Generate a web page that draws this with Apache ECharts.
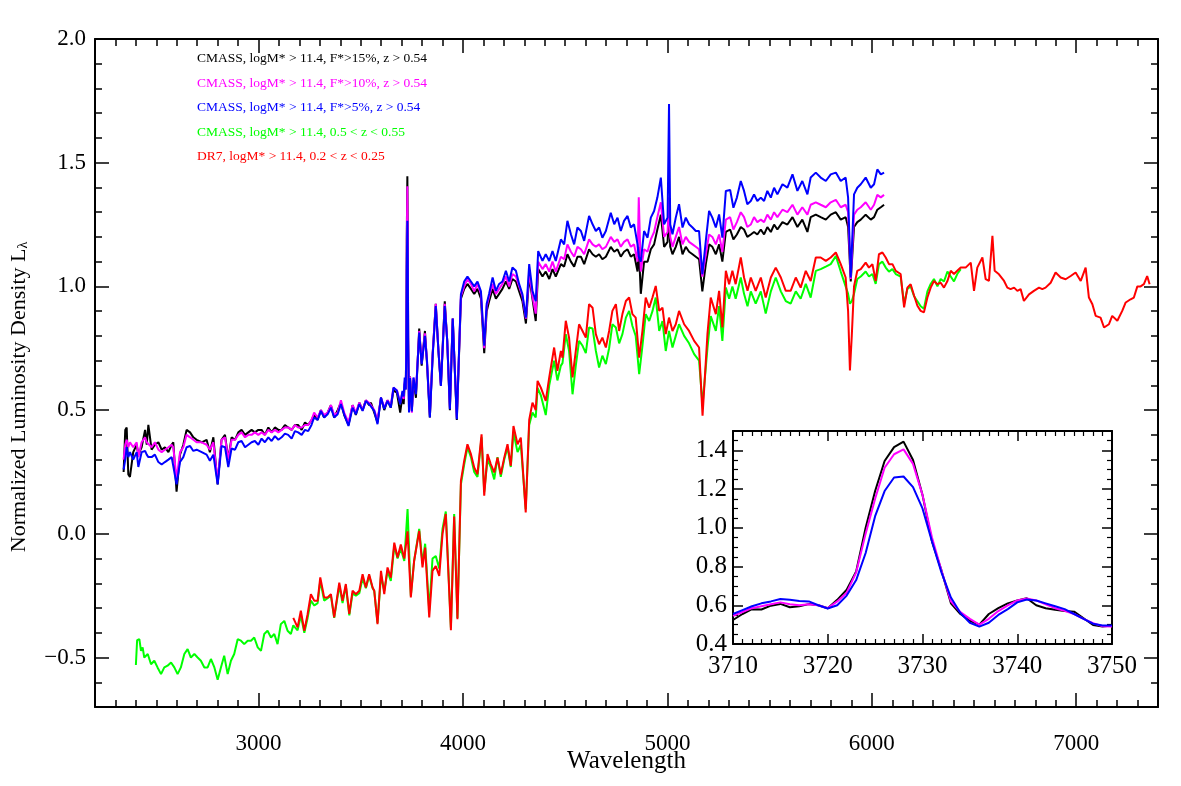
<!DOCTYPE html>
<html>
<head>
<meta charset="utf-8">
<script src="https://cdn.jsdelivr.net/npm/echarts@6/dist/echarts.min.js"></script>
<style>html,body{margin:0;padding:0;background:#fff}#chart{width:1181px;height:786px}</style>
</head>
<body>
<div id="chart"></div>
<script>
// ---------------- DATA ----------------
const legendNames = [
  'CMASS, logM* > 11.4, F*>15%, z > 0.54',
  'CMASS, logM* > 11.4, F*>10%, z > 0.54',
  'CMASS, logM* > 11.4, F*>5%, z > 0.54',
  'CMASS, logM* > 11.4, 0.5 < z < 0.55',
  'DR7, logM* > 11.4, 0.2 < z < 0.25'
];
const seriesColors = ['#000000', '#ff00ff', '#0000ff', '#00ff00', '#ff0000'];

const mainXTickValues = [3000, 4000, 5000, 6000, 7000];
const mainXTickLabels = ['3000', '4000', '5000', '6000', '7000'];
const mainYTickValues = [-0.5, 0.0, 0.5, 1.0, 1.5, 2.0];
const mainYTickLabels = ['\u22120.5', '0.0', '0.5', '1.0', '1.5', '2.0'];
const insetXTickValues = [3710, 3720, 3730, 3740, 3750];
const insetXTickLabels = ['3710', '3720', '3730', '3740', '3750'];
const insetYTickValues = [0.4, 0.6, 0.8, 1.0, 1.2, 1.4];
const insetYTickLabels = ['0.4', '0.6', '0.8', '1.0', '1.2', '1.4'];

// CMASS high-z stacks (wavelength grid shared by the three F* subsamples)
const cmassWave = [
  2340,2348,2355,2363,2371,2387,2404,2412,2428,2445,
  2453,2461,2477,2493,2510,2526,2542,2559,2575,2583,
  2599,2616,2632,2648,2665,2681,2697,2722,2746,2762,
  2779,2800,2819,2836,2852,2868,2885,2901,2917,2934,
  2950,2966,2982,2999,3015,3031,3048,3064,3080,3097,
  3113,3129,3145,3162,3178,3194,3211,3227,3243,3259,
  3272,3289,3305,3321,3338,3354,3370,3387,3403,3419,
  3440,3460,3476,3493,3509,3525,3541,3550,3566,3582,
  3599,3615,3631,3647,3660,3677,3693,3704,3710,3715,
  3720,3723,3725,3728,3730,3732,3736,3741,3746,3750,
  3758,3770,3786,3798,3814,3824,3838,3852,3867,3880,
  3892,3911,3923,3936,3950,3970,3990,4006,4022,4039,
  4055,4071,4088,4104,4116,4128,4145,4161,4177,4193,
  4210,4226,4242,4259,4275,4291,4308,4324,4340,4356,
  4368,4389,4405,4422,4438,4454,4479,4495,4511,4528,
  4544,4560,4577,4593,4617,4634,4650,4666,4682,4699,
  4723,4740,4756,4772,4788,4805,4821,4837,4854,4860,
  4870,4886,4903,4919,4935,4951,4968,4984,5001,5008,
  5014,5025,5041,5057,5074,5090,5106,5123,5139,5155,
  5171,5188,5204,5220,5237,5253,5269,5286,5307,5323,
  5340,5359,5375,5391,5408,5424,5440,5457,5473,5489,
  5506,5522,5538,5563,5587,5612,5636,5660,5685,5701,
  5726,5750,5775,5799,5824,5848,5872,5884,5897,5913,
  5929,5946,5970,5995,6011,6027,6044,6060
];
const cmassF15 = [ // black
  0.25,0.42,0.43,0.24,0.23,0.33,0.36,0.32,0.35,0.42,
  0.36,0.44,0.34,0.36,0.37,0.34,0.35,0.33,0.36,0.37,
  0.17,0.32,0.36,0.42,0.41,0.39,0.38,0.37,0.38,0.33,
  0.39,0.20,0.38,0.40,0.30,0.39,0.38,0.41,0.42,0.40,
  0.41,0.42,0.41,0.42,0.42,0.40,0.43,0.41,0.43,0.42,
  0.42,0.44,0.43,0.42,0.44,0.44,0.42,0.45,0.44,0.46,
  0.48,0.46,0.50,0.47,0.49,0.52,0.47,0.50,0.53,0.48,
  0.44,0.52,0.48,0.53,0.50,0.54,0.52,0.53,0.49,0.45,
  0.55,0.50,0.54,0.51,0.58,0.57,0.49,0.56,0.524,0.607,
  0.584,0.775,1.19,1.445,1.207,0.792,0.503,0.636,0.567,0.498,
  0.62,0.55,0.83,0.68,0.82,0.69,0.47,0.73,0.93,0.74,
  0.60,0.94,0.78,0.50,0.87,0.46,0.95,0.99,1.01,0.99,
  0.97,0.99,0.95,0.73,0.90,0.94,0.99,0.95,0.97,0.99,
  1.02,0.99,1.03,1.02,0.98,0.94,0.85,1.04,0.95,0.86,
  1.07,1.04,1.06,1.03,1.07,1.04,1.09,1.08,1.13,1.10,
  1.08,1.12,1.12,1.09,1.15,1.13,1.12,1.13,1.11,1.12,
  1.16,1.14,1.15,1.12,1.14,1.15,1.12,1.13,1.06,1.16,
  0.97,1.10,1.10,1.15,1.17,1.23,1.29,1.16,1.18,1.30,
  1.16,1.13,1.16,1.20,1.13,1.16,1.14,1.13,1.12,1.11,
  0.98,1.09,1.17,1.16,1.13,1.17,1.10,1.22,1.23,1.19,
  1.21,1.24,1.23,1.20,1.21,1.22,1.21,1.23,1.21,1.24,
  1.22,1.25,1.23,1.26,1.25,1.28,1.24,1.27,1.22,1.28,
  1.29,1.28,1.27,1.29,1.30,1.27,1.28,1.24,1.02,1.24,
  1.26,1.27,1.29,1.27,1.28,1.31,1.32,1.33
];
const cmassF10 = [ // magenta
  0.30,0.36,0.38,0.35,0.37,0.35,0.37,0.31,0.37,0.39,
  0.37,0.37,0.35,0.37,0.34,0.33,0.34,0.35,0.36,0.35,
  0.22,0.33,0.35,0.40,0.39,0.38,0.37,0.37,0.36,0.34,
  0.37,0.21,0.38,0.39,0.30,0.38,0.38,0.40,0.41,0.39,
  0.40,0.40,0.41,0.40,0.41,0.40,0.42,0.41,0.42,0.41,
  0.42,0.43,0.43,0.42,0.44,0.43,0.43,0.44,0.44,0.46,
  0.49,0.47,0.50,0.48,0.49,0.52,0.48,0.49,0.54,0.49,
  0.45,0.52,0.49,0.53,0.50,0.54,0.53,0.53,0.50,0.46,
  0.55,0.51,0.54,0.52,0.59,0.58,0.53,0.57,0.545,0.615,
  0.585,0.77,1.15,1.405,1.20,0.80,0.50,0.635,0.55,0.49,
  0.63,0.57,0.82,0.69,0.81,0.70,0.48,0.73,0.93,0.74,
  0.60,0.93,0.78,0.51,0.87,0.47,0.96,1.00,1.03,1.01,
  0.98,1.01,0.97,0.75,0.92,0.96,1.01,0.97,0.99,1.01,
  1.04,1.00,1.05,1.04,1.00,0.96,0.87,1.06,0.96,0.89,
  1.10,1.07,1.09,1.06,1.10,1.06,1.12,1.11,1.17,1.14,
  1.12,1.16,1.15,1.13,1.19,1.17,1.16,1.17,1.15,1.16,
  1.20,1.18,1.19,1.16,1.18,1.19,1.16,1.17,1.10,1.36,
  1.06,1.15,1.14,1.19,1.22,1.28,1.34,1.20,1.22,1.36,
  1.20,1.16,1.20,1.24,1.17,1.20,1.18,1.17,1.16,1.15,
  1.04,1.13,1.21,1.20,1.17,1.21,1.14,1.27,1.28,1.23,
  1.26,1.30,1.28,1.24,1.25,1.28,1.26,1.27,1.26,1.29,
  1.27,1.30,1.28,1.31,1.30,1.33,1.29,1.32,1.29,1.33,
  1.34,1.33,1.32,1.34,1.35,1.32,1.33,1.30,1.03,1.29,
  1.31,1.32,1.34,1.31,1.33,1.37,1.36,1.37
];
const cmassF5 = [ // blue
  0.26,0.30,0.35,0.31,0.33,0.30,0.33,0.27,0.33,0.335,
  0.32,0.31,0.31,0.32,0.29,0.28,0.29,0.30,0.31,0.315,
  0.20,0.29,0.31,0.35,0.355,0.335,0.34,0.33,0.32,0.295,
  0.32,0.20,0.355,0.35,0.27,0.345,0.34,0.37,0.375,0.35,
  0.36,0.37,0.375,0.36,0.385,0.37,0.39,0.375,0.395,0.38,
  0.39,0.405,0.40,0.385,0.415,0.41,0.40,0.42,0.415,0.44,
  0.47,0.46,0.497,0.47,0.483,0.51,0.47,0.483,0.524,0.483,
  0.436,0.51,0.483,0.524,0.497,0.537,0.524,0.524,0.497,0.443,
  0.551,0.505,0.537,0.51,0.591,0.578,0.524,0.578,0.555,0.632,
  0.583,0.73,1.06,1.265,1.10,0.77,0.49,0.63,0.555,0.495,
  0.632,0.564,0.813,0.686,0.80,0.70,0.47,0.72,0.921,0.74,
  0.598,0.921,0.78,0.504,0.87,0.463,0.968,1.02,1.04,1.02,
  1.00,1.02,0.98,0.76,0.93,0.97,1.036,0.982,1.01,1.02,
  1.063,1.02,1.076,1.063,1.009,0.968,0.874,1.09,0.982,0.94,
  1.143,1.103,1.13,1.103,1.143,1.103,1.19,1.17,1.265,1.211,
  1.17,1.238,1.224,1.184,1.285,1.251,1.224,1.238,1.197,1.224,
  1.298,1.251,1.278,1.224,1.265,1.285,1.238,1.251,1.17,1.12,
  1.10,1.224,1.197,1.278,1.305,1.359,1.44,1.251,1.278,1.737,
  1.25,1.211,1.278,1.332,1.238,1.278,1.251,1.238,1.224,1.224,
  1.049,1.184,1.305,1.278,1.238,1.291,1.197,1.386,1.39,1.318,
  1.359,1.426,1.386,1.332,1.345,1.372,1.345,1.359,1.345,1.386,
  1.359,1.399,1.372,1.413,1.399,1.453,1.386,1.426,1.372,1.44,
  1.46,1.44,1.426,1.453,1.46,1.426,1.44,1.359,1.036,1.372,
  1.399,1.413,1.44,1.399,1.413,1.473,1.453,1.46
];

// CMASS 0.5<z<0.55 (green)
const greenWave = [
  2400,2406,2417,2425,2433,2441,2458,2474,2490,2506,
  2523,2539,2555,2572,2588,2604,2620,2637,2653,2669,
  2686,2702,2718,2735,2751,2767,2784,2800,2816,2832,
  2849,2865,2881,2898,2914,2930,2947,2963,2979,2996,
  3012,3028,3044,3061,3077,3093,3109,3126,3142,3158,
  3170,3191,3207,3224,3240,3256,3273,3289,3302,3321,
  3338,3354,3370,3395,3411,3427,3444,3460,3476,3493,
  3509,3525,3541,3558,3566,3582,3599,3615,3631,3647,
  3664,3680,3696,3713,3729,3745,3761,3786,3802,3815,
  3835,3851,3867,3884,3900,3916,3941,3957,3973,3990,
  4006,4022,4039,4055,4071,4091,4104,4120,4136,4153,
  4169,4185,4202,4218,4234,4247,4267,4283,4307,4324,
  4340,4356,4365,4381,4405,4422,4446,4462,4479,4487,
  4503,4519,4536,4552,4568,4585,4601,4617,4634,4650,
  4666,4682,4699,4715,4731,4748,4764,4780,4797,4813,
  4829,4845,4862,4878,4894,4911,4927,4943,4960,4976,
  4992,5008,5025,5041,5057,5082,5106,5131,5155,5172,
  5196,5212,5237,5253,5269,5286,5302,5318,5334,5359,
  5375,5392,5408,5432,5457,5481,5506,5530,5555,5579,
  5603,5628,5652,5677,5701,5726,5750,5775,5799,5824,
  5848,5872,5884,5893,5902,5913,5929,5946,5970,5986,
  6003,6019,6035,6052,6068,6084,6101,6117,6141,6158,
  6174,6190,6207,6223,6239,6255,6272,6288,6304,6321,
  6337,6353,6370,6386,6402,6418,6435
];
const greenFlux = [
  -0.53,-0.43,-0.426,-0.473,-0.459,-0.50,-0.486,-0.527,-0.513,-0.54,
  -0.567,-0.54,-0.533,-0.52,-0.54,-0.567,-0.54,-0.486,-0.466,-0.50,
  -0.486,-0.50,-0.513,-0.54,-0.54,-0.506,-0.54,-0.59,-0.54,-0.493,
  -0.567,-0.513,-0.486,-0.426,-0.432,-0.446,-0.432,-0.432,-0.419,-0.459,
  -0.473,-0.405,-0.392,-0.419,-0.405,-0.446,-0.365,-0.352,-0.392,-0.405,
  -0.37,-0.39,-0.33,-0.40,-0.34,-0.27,-0.29,-0.28,-0.19,-0.27,
  -0.26,-0.25,-0.34,-0.21,-0.28,-0.21,-0.33,-0.24,-0.25,-0.24,
  -0.18,-0.22,-0.17,-0.22,-0.23,-0.36,-0.17,-0.23,-0.15,-0.19,
  -0.05,-0.10,-0.06,-0.11,0.10,-0.25,-0.11,0.02,-0.12,-0.04,
  -0.31,-0.10,-0.09,-0.14,0.02,0.09,-0.38,0.08,-0.34,0.20,
  0.28,0.35,0.31,0.25,0.23,0.39,0.17,0.30,0.27,0.22,
  0.31,0.23,0.30,0.35,0.27,0.41,0.33,0.36,0.10,0.44,
  0.49,0.47,0.59,0.56,0.48,0.60,0.70,0.62,0.68,0.69,
  0.807,0.74,0.564,0.68,0.78,0.76,0.73,0.834,0.83,0.74,
  0.672,0.72,0.686,0.75,0.847,0.834,0.77,0.807,0.874,0.901,
  0.84,0.80,0.645,0.76,0.888,0.86,0.90,0.955,0.82,0.86,
  0.739,0.82,0.753,0.80,0.847,0.80,0.77,0.726,0.70,0.52,
  0.75,0.88,0.82,0.92,0.78,0.995,0.95,1.00,0.95,1.036,
  0.97,0.92,0.98,0.93,0.98,0.89,0.98,1.036,0.98,0.941,
  0.93,0.98,0.95,1.01,0.955,1.063,1.07,1.08,1.09,1.123,
  1.06,1.00,0.97,0.93,0.94,0.97,1.03,1.04,1.06,1.04,
  1.05,1.01,1.09,1.10,1.076,1.06,1.07,1.05,1.04,0.93,
  0.99,1.00,0.96,0.94,0.92,0.91,0.98,1.01,1.03,1.00,
  1.03,1.02,1.06,1.04,1.02,1.05,1.07
];

// DR7 0.2<z<0.25 (red)
const redWave = [
  3170,3191,3207,3224,3240,3256,3273,3289,3302,3321,
  3338,3354,3370,3395,3411,3427,3444,3460,3476,3493,
  3509,3525,3541,3558,3566,3582,3599,3615,3631,3647,
  3664,3680,3696,3713,3729,3745,3761,3786,3802,3815,
  3835,3851,3867,3884,3900,3916,3941,3957,3973,3990,
  4006,4022,4039,4055,4071,4091,4104,4120,4136,4153,
  4169,4185,4202,4218,4234,4247,4267,4283,4307,4324,
  4340,4356,4365,4381,4405,4422,4446,4462,4479,4487,
  4503,4519,4536,4552,4568,4585,4601,4617,4634,4650,
  4666,4682,4699,4715,4731,4748,4764,4780,4797,4813,
  4829,4845,4862,4878,4894,4911,4927,4943,4960,4976,
  4992,5008,5025,5041,5057,5082,5106,5131,5155,5172,
  5196,5212,5237,5253,5269,5286,5302,5318,5334,5359,
  5375,5392,5408,5432,5457,5481,5506,5530,5555,5579,
  5603,5628,5652,5677,5701,5726,5750,5775,5799,5824,
  5848,5872,5884,5893,5902,5913,5929,5946,5970,5986,
  6003,6019,6035,6052,6068,6084,6101,6117,6141,6158,
  6174,6190,6207,6223,6239,6255,6272,6288,6304,6321,
  6337,6353,6370,6386,6402,6418,6435,6459,6484,6500,
  6516,6541,6557,6573,6590,6601,6622,6647,6663,6679,
  6696,6712,6728,6744,6769,6793,6818,6834,6850,6875,
  6899,6924,6948,6973,6997,7022,7046,7062,7079,7095,
  7119,7136,7160,7176,7201,7225,7242,7266,7282,7299,
  7315,7331,7347,7359
];
const redFlux = [
  -0.34,-0.378,-0.311,-0.392,-0.325,-0.244,-0.271,-0.271,-0.176,-0.257,
  -0.257,-0.244,-0.338,-0.197,-0.271,-0.203,-0.324,-0.23,-0.244,-0.23,
  -0.163,-0.217,-0.163,-0.217,-0.23,-0.365,-0.15,-0.244,-0.136,-0.177,
  -0.036,-0.096,-0.043,-0.10,0.01,-0.257,-0.11,0.012,-0.136,-0.056,
  -0.338,-0.15,-0.13,-0.17,0.0,0.08,-0.39,0.07,-0.345,0.214,
  0.295,0.362,0.322,0.268,0.241,0.402,0.154,0.322,0.282,0.248,
  0.308,0.241,0.308,0.362,0.275,0.436,0.362,0.389,0.086,0.46,
  0.53,0.50,0.618,0.591,0.537,0.632,0.753,0.659,0.739,0.712,
  0.861,0.793,0.632,0.739,0.847,0.82,0.793,0.928,0.914,0.807,
  0.766,0.793,0.753,0.82,0.901,0.928,0.82,0.888,0.941,0.955,
  0.888,0.874,0.712,0.82,0.955,0.914,0.955,1.002,0.901,0.914,
  0.807,0.874,0.82,0.847,0.901,0.847,0.82,0.78,0.753,0.477,
  0.807,0.955,0.888,0.982,0.834,1.063,1.009,1.063,1.009,1.117,
  1.036,0.982,1.036,0.982,1.036,0.955,1.036,1.076,1.036,0.982,
  0.982,1.036,0.995,1.063,1.022,1.117,1.117,1.103,1.117,1.137,
  1.09,1.036,0.90,0.66,0.80,1.0,1.063,1.07,1.096,1.076,
  1.09,1.022,1.13,1.137,1.117,1.09,1.09,1.063,1.05,0.915,
  0.995,1.009,0.962,0.922,0.901,0.895,0.955,0.995,1.022,1.009,
  1.015,0.995,1.022,1.063,1.05,1.063,1.076,1.076,1.096,0.982,
  1.076,1.117,1.029,1.022,1.204,1.063,1.049,1.022,0.995,0.989,
  0.995,0.982,0.989,0.941,0.968,0.982,0.995,0.989,0.995,1.015,
  1.056,1.036,1.029,1.042,1.056,1.022,1.076,0.955,0.928,0.881,
  0.874,0.834,0.847,0.881,0.861,0.901,0.935,0.948,0.955,1.0,
  1.0,1.009,1.042,1.009
];

// Inset: [OII] 3727 region
const insetWave = [
  3710,3711,3712,3713,3714,3715,3716,3717,3718,3719,
  3720,3721,3722,3723,3724,3725,3726,3727,3728,3729,
  3730,3731,3732,3733,3734,3735,3736,3737,3738,3739,
  3740,3741,3742,3743,3744,3745,3746,3747,3748,3749,3750
];
const insetF15 = [
  0.524,0.555,0.58,0.578,0.598,0.607,0.59,0.595,0.606,0.60,
  0.585,0.628,0.68,0.775,1.00,1.19,1.345,1.417,1.445,1.35,
  1.17,0.93,0.78,0.61,0.555,0.52,0.50,0.555,0.585,0.61,
  0.625,0.636,0.60,0.585,0.577,0.571,0.567,0.533,0.498,0.49,0.495
];
const insetF10 = [
  0.545,0.565,0.585,0.595,0.605,0.615,0.605,0.60,0.605,0.60,
  0.585,0.62,0.665,0.77,0.97,1.15,1.31,1.38,1.405,1.33,
  1.17,0.95,0.78,0.62,0.565,0.53,0.50,0.53,0.57,0.60,
  0.625,0.635,0.625,0.605,0.585,0.572,0.555,0.53,0.508,0.492,0.49
];
const insetF5 = [
  0.555,0.575,0.595,0.61,0.62,0.632,0.628,0.622,0.62,0.60,
  0.583,0.60,0.65,0.73,0.87,1.06,1.19,1.26,1.265,1.21,
  1.10,0.93,0.77,0.64,0.56,0.51,0.49,0.51,0.55,0.58,
  0.615,0.63,0.625,0.61,0.595,0.58,0.555,0.53,0.505,0.495,0.495
];

// ---------------- CHART ----------------
const FONT = '"Liberation Serif", "Times New Roman", serif';
const pairs = (w, v) => w.map((x, i) => [x, v[i]]);
const labelFrom = (vals, labs) => (v) => {
  const i = vals.findIndex(t => Math.abs(t - v) < 1e-6);
  return i >= 0 ? labs[i] : '';
};

function axisCommon(extra) {
  return Object.assign({
    type: 'value',
    nameMoveOverlap: false,
    axisLine: { show: true, onZero: false, lineStyle: { color: '#000', width: 2 } },
    splitLine: { show: false },
    axisTick: { show: true, inside: true, length: 14, lineStyle: { color: '#000', width: 1.5 } },
    minorTick: { show: true, length: 7, lineStyle: { color: '#000', width: 1.5 } },
    axisLabel: { show: false }
  }, extra);
}

const chart = echarts.init(document.getElementById('chart'), null, { renderer: 'canvas' });

const mainLine = (idx, wave, vals, z) => ({
  name: legendNames[idx], type: 'line', xAxisIndex: 0, yAxisIndex: 0,
  data: pairs(wave, vals), showSymbol: false, symbol: 'none', z: z,
  lineStyle: { color: seriesColors[idx], width: 2 }, itemStyle: { color: seriesColors[idx] }
});
const insetLine = (idx, vals, z) => ({
  name: 'inset ' + legendNames[idx], type: 'line', xAxisIndex: 2, yAxisIndex: 2,
  data: pairs(insetWave, vals), showSymbol: false, symbol: 'none', z: z,
  lineStyle: { color: seriesColors[idx], width: 2 }, itemStyle: { color: seriesColors[idx] }
});

const option = {
  animation: false,
  backgroundColor: '#ffffff',
  grid: [
    { left: 94, right: 23, top: 39, bottom: 79, show: false },
    { left: 733, top: 431, width: 379, height: 213, show: true, backgroundColor: '#ffffff', borderWidth: 0 }
  ],
  legend: {
    orient: 'vertical', left: 186, top: 41.5, itemWidth: 0, itemHeight: 0, itemGap: 0,
    selectedMode: false,
    textStyle: { fontFamily: FONT, fontSize: 13.5, lineHeight: 24.5 },
    data: legendNames.map((n, i) => ({ name: n, textStyle: { color: seriesColors[i] } }))
  },
  xAxis: [
    axisCommon({
      gridIndex: 0, position: 'bottom', min: 2200, max: 7400, splitNumber: 5,
      minorTick: { show: true, splitNumber: 10, length: 7, lineStyle: { color: '#000', width: 1.5 } },
      name: 'Wavelength', nameLocation: 'middle', nameGap: 42,
      nameTextStyle: { fontFamily: FONT, fontSize: 25, color: '#000' },
      axisLabel: { show: true, margin: 25, fontFamily: FONT, fontSize: 23, color: '#000',
        formatter: labelFrom(mainXTickValues, mainXTickLabels) }
    }),
    axisCommon({
      gridIndex: 0, position: 'top', min: 2200, max: 7400, splitNumber: 5,
      minorTick: { show: true, splitNumber: 10, length: 7, lineStyle: { color: '#000', width: 1.5 } }
    }),
    axisCommon({
      gridIndex: 1, position: 'bottom', min: 3710, max: 3750, splitNumber: 4,
      axisTick: { show: true, inside: true, length: 10, lineStyle: { color: '#000', width: 1.5 } },
      minorTick: { show: true, splitNumber: 10, length: 5, lineStyle: { color: '#000', width: 1.2 } },
      axisLabel: { show: true, margin: 10, fontFamily: FONT, fontSize: 25, color: '#000',
        formatter: labelFrom(insetXTickValues, insetXTickLabels) }
    }),
    axisCommon({
      gridIndex: 1, position: 'top', min: 3710, max: 3750, splitNumber: 4,
      axisTick: { show: true, inside: true, length: 10, lineStyle: { color: '#000', width: 1.5 } },
      minorTick: { show: true, splitNumber: 10, length: 5, lineStyle: { color: '#000', width: 1.2 } }
    })
  ],
  yAxis: [
    axisCommon({
      gridIndex: 0, position: 'left', min: -0.7, max: 2.0, splitNumber: 5,
      minorTick: { show: true, splitNumber: 5, length: 7, lineStyle: { color: '#000', width: 1.5 } },
      name: 'Normalized Luminosity Density L{sub|\u03bb}', nameLocation: 'middle', nameGap: 65,
      nameTextStyle: { fontFamily: FONT, fontSize: 22, color: '#000', padding: [0, 48, 0, 0],
        rich: { sub: { fontFamily: FONT, fontSize: 14, color: '#000', verticalAlign: 'bottom' } } },
      axisLabel: { show: true, margin: 9, fontFamily: FONT, fontSize: 23, color: '#000',
        formatter: labelFrom(mainYTickValues, mainYTickLabels) }
    }),
    axisCommon({
      gridIndex: 0, position: 'right', min: -0.7, max: 2.0, splitNumber: 5,
      minorTick: { show: true, splitNumber: 5, length: 7, lineStyle: { color: '#000', width: 1.5 } }
    }),
    axisCommon({
      gridIndex: 1, position: 'left', min: 0.4, max: 1.5, interval: 0.2,
      axisTick: { show: true, inside: true, length: 10, lineStyle: { color: '#000', width: 1.5 } },
      minorTick: { show: true, splitNumber: 4, length: 5, lineStyle: { color: '#000', width: 1.2 } },
      axisLabel: { show: true, margin: 6, fontFamily: FONT, fontSize: 25, color: '#000',
        formatter: labelFrom(insetYTickValues, insetYTickLabels) }
    }),
    axisCommon({
      gridIndex: 1, position: 'right', min: 0.4, max: 1.5, interval: 0.2,
      axisTick: { show: true, inside: true, length: 10, lineStyle: { color: '#000', width: 1.5 } },
      minorTick: { show: true, splitNumber: 4, length: 5, lineStyle: { color: '#000', width: 1.2 } }
    })
  ],
  series: [
    mainLine(0, cmassWave, cmassF15, 2),
    mainLine(1, cmassWave, cmassF10, 3),
    mainLine(2, cmassWave, cmassF5, 4),
    mainLine(3, greenWave, greenFlux, 5),
    mainLine(4, redWave, redFlux, 6),
    insetLine(0, insetF15, 7),
    insetLine(1, insetF10, 8),
    insetLine(2, insetF5, 9)
  ]
};
chart.setOption(option);

[['cmass', cmassWave, cmassF15, cmassF10, cmassF5], ['green', greenWave, greenFlux], ['red', redWave, redFlux],
 ['inset', insetWave, insetF15, insetF10, insetF5]].forEach(a => {
  for (let k = 2; k < a.length; k++) if (a[k].length !== a[1].length) console.error('length mismatch', a[0], k, a[1].length, a[k].length);
});
</script>
</body>
</html>
